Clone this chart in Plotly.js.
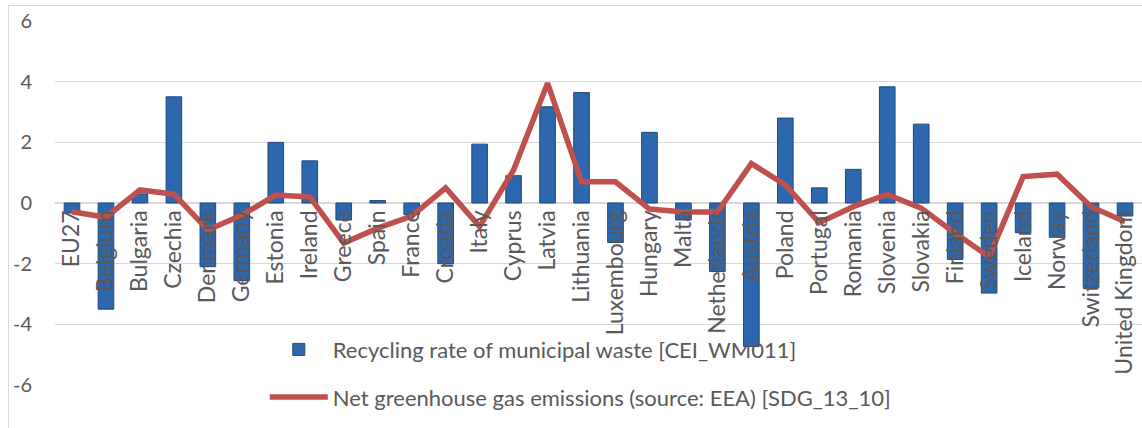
<!DOCTYPE html>
<html>
<head>
<meta charset="utf-8">
<script src="https://cdn.plot.ly/plotly-3.0.1.min.js"></script>
<style>
  html, body { margin: 0; padding: 0; background: #fff; overflow: hidden; }
  #frame { position: absolute; left: 8px; top: 5px; width: 1140px; height: 430px; border: 1.5px solid #d9d9d9; box-sizing: border-box; }
  #chart { position: absolute; left: 0; top: 0; width: 1142px; height: 428px; }
</style>
</head>
<body>
<div id="frame"></div>
<div id="chart"></div>
<script>
const countries = ["EU27","Belgium","Bulgaria","Czechia","Denmark","Germany","Estonia","Ireland","Greece","Spain","France","Croatia","Italy","Cyprus","Latvia","Lithuania","Luxembourg","Hungary","Malta","Netherlands","Austria","Poland","Portugal","Romania","Slovenia","Slovakia","Finland","Sweden","Iceland","Norway","Switzerland","United Kingdom"];
const recyclingRate = [-0.33,-3.5,0.3,3.5,-2.1,-2.56,2.0,1.39,-0.56,0.08,-0.38,-2.0,1.94,0.9,3.17,3.64,-1.3,2.33,-0.56,-2.26,-4.73,2.8,0.5,1.11,3.83,2.6,-1.86,-2.97,-0.98,-1.13,-2.78,-0.43];
const netGhg = [-0.29,-0.47,0.43,0.29,-0.89,-0.4,0.26,0.2,-1.32,-0.83,-0.43,0.5,-0.78,1.09,3.95,0.7,0.7,-0.2,-0.3,-0.3,1.3,0.6,-0.65,-0.12,0.28,-0.17,-1.0,-1.77,0.87,0.95,-0.12,-0.62];
const yTicks = [-6,-4,-2,0,2,4,6];
const barName = "Recycling rate of municipal waste [CEI_WM011]";
const lineName = "Net greenhouse gas emissions (source: EEA) [SDG_13_10]";

const FONT = "Lato, 'Open Sans', sans-serif";
const traces = [
  {
    type: "bar", x: countries, y: recyclingRate, name: barName, legendgroup: "a",
    marker: { color: "#2d67ae", line: { color: "#1d4a80", width: 1 } }
  },
  {
    type: "scatter", mode: "lines", x: countries, y: netGhg, name: lineName, legendgroup: "b",
    line: { color: "#c0504d", width: 5.5 }
  }
];
const layout = {
  width: 1142, height: 428,
  margin: { l: 55, r: 0, t: 21, b: 43 },
  paper_bgcolor: "rgba(0,0,0,0)", plot_bgcolor: "rgba(0,0,0,0)",
  font: { family: FONT, color: "#595959", size: 20 },
  bargap: 0.54,
  showlegend: true,
  legend: {
    x: 0.193, y: 0.155, xanchor: "left", yanchor: "top",
    orientation: "v", traceorder: "grouped", tracegroupgap: 16,
    itemwidth: 58, font: { size: 22, color: "#595959" }, bgcolor: "rgba(0,0,0,0)"
  },
  xaxis: {
    type: "category", tickangle: -90, anchor: "free", position: 0.495,
    showline: false, ticks: "", showgrid: false, zeroline: false,
    tickfont: { size: 23, color: "#595959" }, automargin: false
  },
  yaxis: {
    range: [-6, 6], tickvals: yTicks, ticktext: yTicks.map(String),
    showgrid: true, gridcolor: "#d9d9d9", gridwidth: 1.5, zeroline: false,
    showline: false, ticks: "", ticklabelstandoff: 22,
    tickfont: { size: 20, color: "#595959" }, automargin: false
  }
};
Plotly.newPlot("chart", traces, layout, { displayModeBar: false, staticPlot: true });
</script>
</body>
</html>
